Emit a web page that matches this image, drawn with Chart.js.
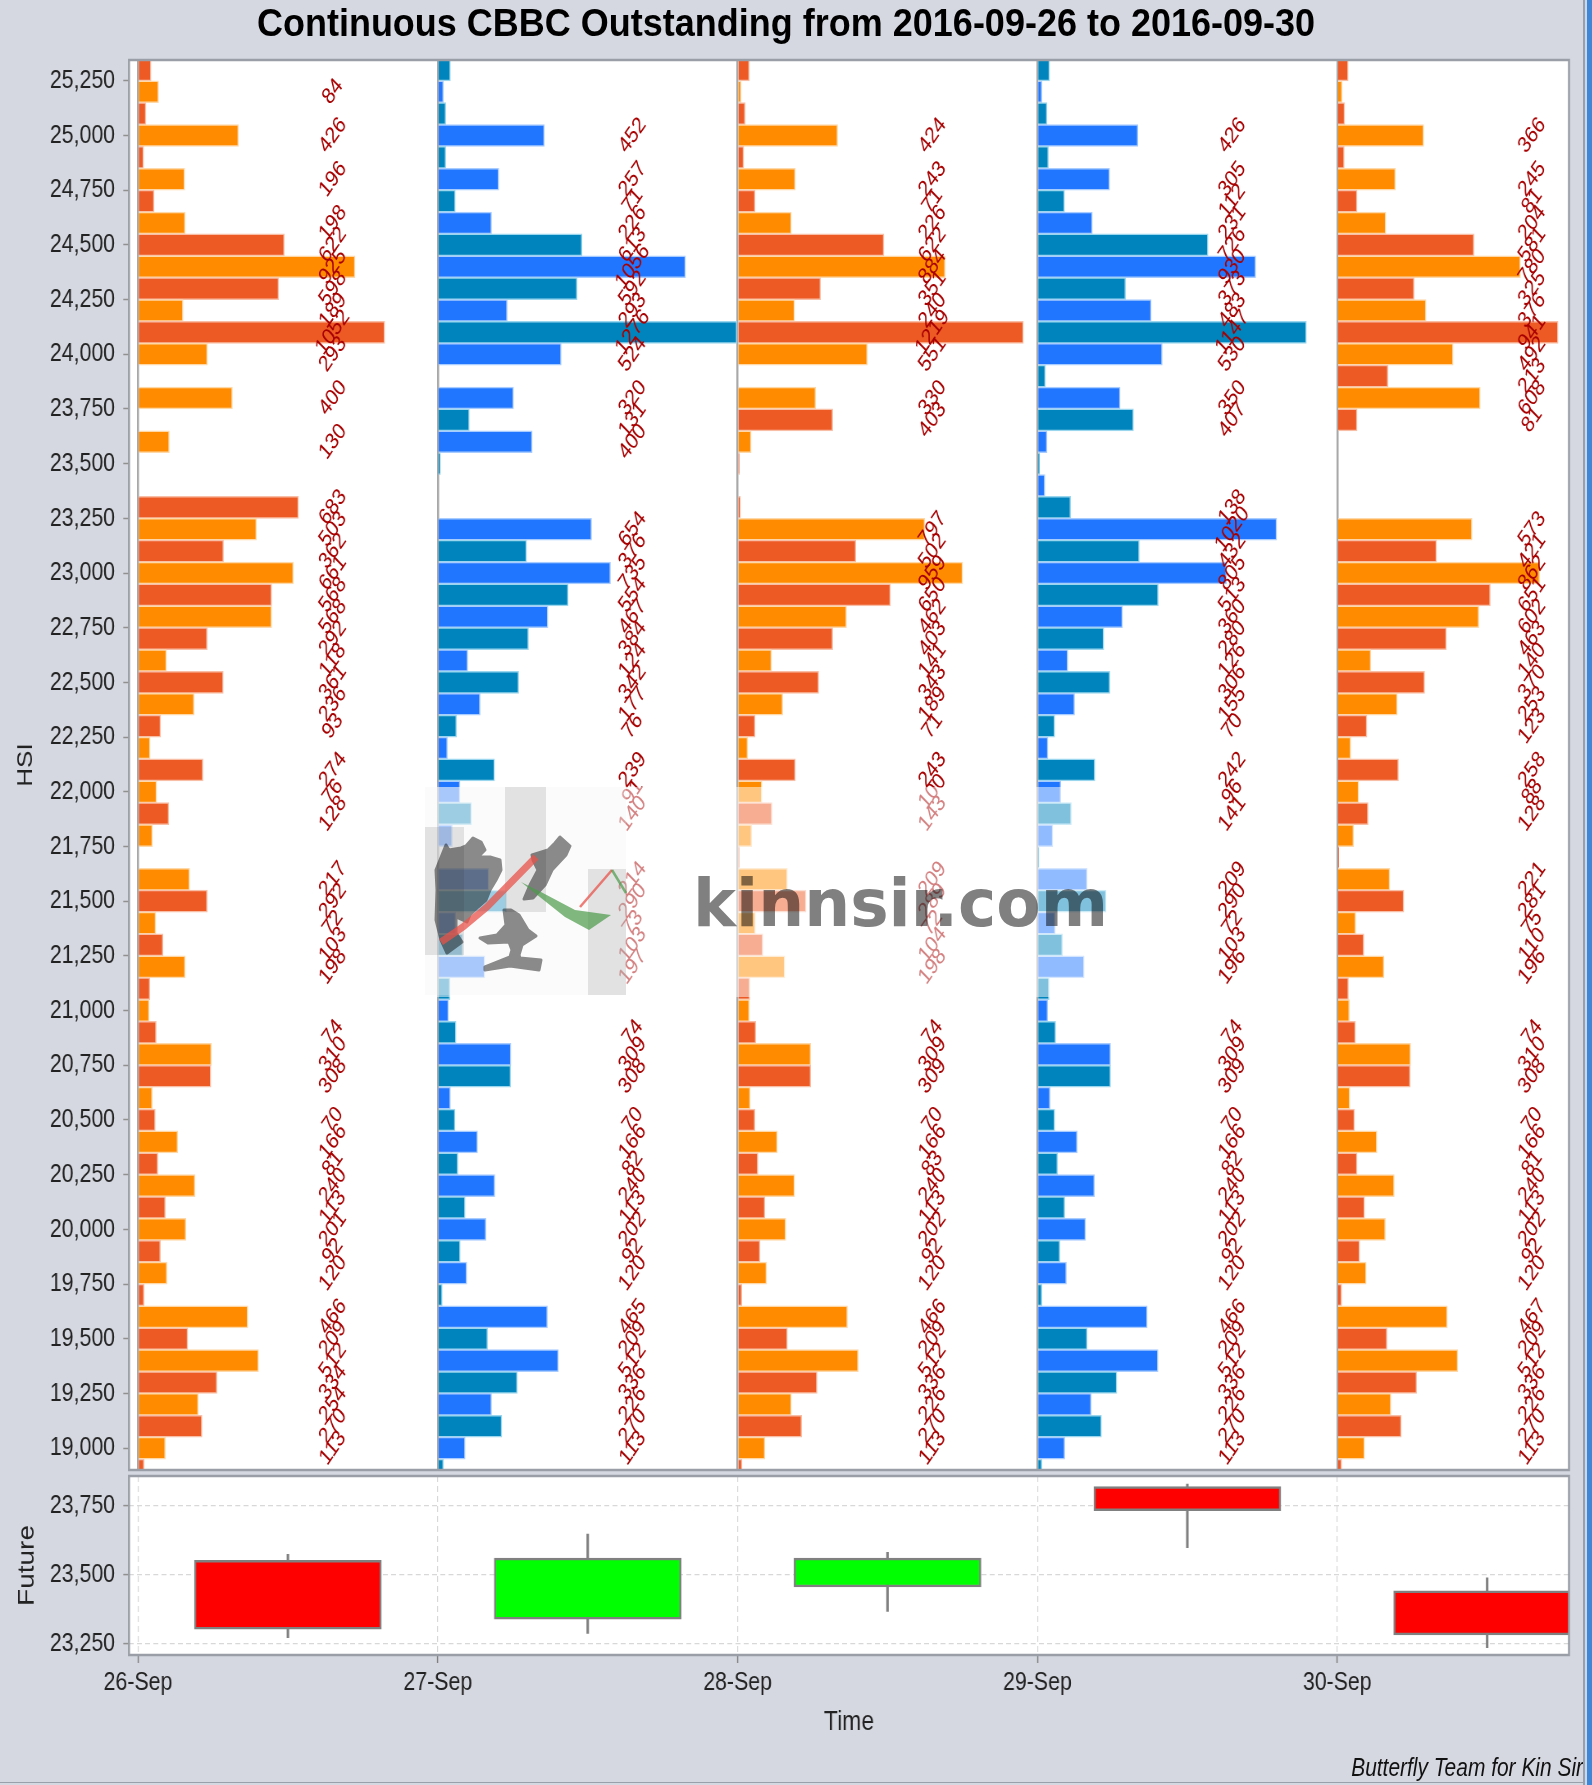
<!DOCTYPE html>
<html>
<head>
<meta charset="utf-8">
<title>Continuous CBBC Outstanding</title>
<script src="https://cdn.jsdelivr.net/npm/chart.js@4"></script>
<style>
  html, body { margin: 0; padding: 0; background: #3f86d6; }
  #page { position: relative; width: 1583px; height: 1785px; background: #d5d8e0; overflow: hidden; border-right: 2px solid #9aa0aa; }
  #foot { position: absolute; left: 0; top: 1782px; width: 1583px; height: 1px; background: #9aa0aa; }
  #strip { position: absolute; left: 1585px; top: 0; width: 2px; height: 1785px; background: #c8d8ee; }
  canvas { position: absolute; left: 0; }
  #title { position: absolute; left: 0; top: 0; width: 1572px; text-align: center; font: bold 39px "Liberation Sans", sans-serif; line-height: 46px; color: #000; transform: scaleX(0.923); }
  #credit { position: absolute; right: 0; top: 1752px; font: italic 26px "Liberation Sans", sans-serif; color: #111; transform: scaleX(0.805); transform-origin: right center; white-space: nowrap; }
  #mark { position: absolute; left: 0; top: 0; }
  .mul { mix-blend-mode: multiply; }
</style>
</head>
<body>
<div id="page">
  <canvas id="hsiChart"></canvas>
  <canvas id="futChart"></canvas>
  <svg id="mark" width="1583" height="1783">
    <rect x="425" y="787" width="686" height="210" fill="#fff" fill-opacity="0.5"/>
    <rect x="425" y="787" width="201" height="208" fill="#f0f0f0" fill-opacity="0.25"/>
    <rect x="425" y="827" width="39" height="128" fill="#777" fill-opacity="0.18"/>
    <rect x="505" y="787" width="41" height="125" fill="#777" fill-opacity="0.18"/>
    <rect x="588" y="869" width="38" height="126" fill="#777" fill-opacity="0.18"/>
    <g class="mul" fill="#8c8c8c" stroke="#8c8c8c" stroke-width="3" stroke-linejoin="round">
      <polygon points="446,845 449,850 461,848 466,846 473,838 481,842 485,850 478,857 490,857 500,860 501,870 496,880 490,890 486,900 478,907 470,915 467,922 456,917 456,933 462,942 447,953 441,940 436,920 437,890 436,870"/>
      <polygon points="560,837 570,846 566,855 552,870 545,885 533,898 524,899 530,885 538,870 533,860 532,855 548,850 555,843"/>
      <polygon points="504,910 511,910 519,915 528,930 536,936 522,945 519,955 520,958 541,960 539,970 510,966 485,970 485,967 510,957 512,950 509,942 488,943 480,938 497,935 506,925"/>
    </g>
    <polyline points="441,942 463,927 487,907 536,857" fill="none" stroke="#e8534a" stroke-opacity="0.75" stroke-width="7"/>
    <polyline points="580,907 612,870" fill="none" stroke="#e8534a" stroke-opacity="0.75" stroke-width="2.5"/>
    <polygon points="521,882 541,892 575,910 611,915 589,930 565,917 531,890" fill="#4a9a4a" fill-opacity="0.7"/>
    <polyline points="612,870 626,893" fill="none" stroke="#4a9a4a" stroke-opacity="0.7" stroke-width="2.5"/>
    <text class="mul" x="693" y="926" font-family="DejaVu Sans" font-weight="bold" font-size="65" fill="#808080" textLength="415" lengthAdjust="spacingAndGlyphs">kinnsir.com</text>
  </svg>
  <div id="title">Continuous CBBC Outstanding from 2016-09-26 to 2016-09-30</div>
  <div id="credit">Butterfly Team for Kin Sir</div>
  <div id="foot"></div>
</div>
<div id="strip"></div>
<script>
const days = ['26-Sep', '27-Sep', '28-Sep', '29-Sep', '30-Sep'];
const strikes = [25300, 25200, 25100, 25000, 24900, 24800, 24700, 24600, 24500, 24400, 24300, 24200, 24100, 24000, 23900, 23800, 23700, 23600, 23500, 23400, 23300, 23200, 23100, 23000, 22900, 22800, 22700, 22600, 22500, 22400, 22300, 22200, 22100, 22000, 21900, 21800, 21700, 21600, 21500, 21400, 21300, 21200, 21100, 21000, 20900, 20800, 20700, 20600, 20500, 20400, 20300, 20200, 20100, 20000, 19900, 19800, 19700, 19600, 19500, 19400, 19300, 19200, 19100, 19000, 18900];

const sep26 = [52, 84, 30, 426, 20, 196, 65, 198, 622, 925, 598, 189, 1052, 293, 0, 400, 0, 130, 0, 0, 683, 503, 362, 661, 568, 568, 292, 118, 361, 236, 93, 48, 274, 76, 128, 58, 0, 217, 292, 72, 103, 198, 47, 44, 74, 310, 308, 57, 70, 166, 81, 240, 113, 201, 92, 120, 22, 466, 209, 512, 334, 254, 270, 113, 22];
const sep27 = [50, 20, 30, 452, 30, 257, 71, 226, 613, 1056, 592, 293, 1276, 524, 0, 320, 131, 400, 7, 0, 0, 654, 376, 735, 554, 467, 384, 124, 342, 177, 76, 37, 239, 91, 140, 58, 0, 214, 290, 73, 103, 197, 48, 42, 74, 309, 308, 50, 70, 166, 82, 240, 113, 202, 92, 120, 15, 465, 209, 512, 336, 226, 270, 113, 20];
const sep28 = [46, 11, 28, 424, 22, 243, 71, 226, 622, 884, 351, 240, 1219, 551, 0, 330, 403, 54, 3, 0, 8, 797, 502, 959, 650, 462, 403, 141, 343, 189, 71, 39, 243, 100, 143, 56, 3, 209, 289, 72, 104, 198, 48, 46, 74, 309, 309, 50, 70, 166, 83, 240, 113, 202, 92, 120, 14, 466, 209, 512, 336, 226, 270, 113, 15];
const sep29 = [48, 15, 37, 426, 43, 305, 112, 231, 726, 930, 373, 483, 1147, 530, 30, 350, 407, 37, 5, 28, 138, 1020, 432, 805, 513, 360, 280, 126, 306, 155, 70, 41, 242, 96, 141, 62, 3, 209, 290, 72, 103, 196, 46, 40, 74, 309, 309, 50, 70, 166, 82, 240, 113, 202, 92, 120, 15, 466, 209, 512, 336, 226, 270, 113, 15];
const sep30 = [43, 17, 28, 366, 26, 245, 81, 204, 581, 780, 325, 376, 941, 492, 213, 608, 81, 0, 0, 0, 0, 573, 421, 862, 651, 602, 463, 140, 370, 253, 123, 54, 258, 88, 128, 66, 3, 221, 281, 75, 110, 196, 44, 48, 74, 310, 308, 50, 70, 166, 81, 240, 113, 202, 92, 120, 15, 467, 209, 512, 336, 226, 270, 113, 15];
const dayValues = [sep26, sep27, sep28, sep29, sep30];

const futOpen = [23553, 23339, 23456, 23821, 23442];
const futClose = [23303, 23561, 23561, 23733, 23282];
const futHigh = [23575, 23648, 23582, 23830, 23489];
const futLow = [23272, 23287, 23367, 23599, 23236];

// one day on the x axis is this many contracts wide, both charts share it
const dayWidth = 1283;
const labelFrom = 70;
const xMin = -0.03 * dayWidth;
const xMax = 4.773 * dayWidth;

const orange = ['#ff8c00', '#ee5a24'];
const blue = ['#2176ff', '#0084bd'];
const orangeEdge = ['#ffd8a8', '#f9bfa6'];
const blueEdge = ['#a8ccff', '#9ad6ee'];

// the source picture is squeezed sideways, so the canvases are drawn wider and shown at 0.82
const squeeze = 0.82;
const cssW = 1585;
const axisLeft = 129 / squeeze;
const rightGap = (cssW - 1569) / squeeze;
const sansFont = '"Liberation Sans", sans-serif';
const tickFont = { family: sansFont, size: 26 };

function place(id, top, height) {
  const c = document.getElementById(id);
  c.style.top = top + 'px';
  c.style.width = cssW + 'px';
  c.style.height = height + 'px';
  c.width = Math.round(cssW / squeeze);
  c.height = height;
  return c.getContext('2d');
}

function fitLeft(scale) {
  scale.width = axisLeft;
  scale.paddingTop = 0;
  scale.paddingBottom = 0;
}

function fitBottom(scale, h) {
  scale.height = h;
  scale.paddingLeft = 0;
  scale.paddingRight = 0;
}

function dayTicks(scale) {
  scale.ticks = days.map((d, i) => ({ value: i * dayWidth }));
}

// dark red value next to each bar, rotated, at a constant offset inside the day
const barLabels = {
  id: 'barLabels',
  afterDatasetsDraw(chart) {
    const { ctx, scales } = chart;
    ctx.save();
    ctx.fillStyle = '#a80000';
    ctx.font = '23px ' + sansFont;
    ctx.textAlign = 'center';
    ctx.textBaseline = 'middle';
    dayValues.forEach((vals, d) => {
      const x = scales.x.getPixelForValue((d + 0.65) * dayWidth);
      vals.forEach((v, i) => {
        if (v < labelFrom) return;
        const y = scales.y.getPixelForValue(strikes[i]);
        ctx.save();
        ctx.translate(x, y);
        ctx.rotate(-50 * Math.PI / 180);
        ctx.fillText(String(v), 0, 0);
        ctx.restore();
      });
    });
    ctx.restore();
  }
};

const plotFrame = {
  id: 'plotFrame',
  beforeDraw(chart) {
    const { ctx, chartArea: a } = chart;
    ctx.save();
    ctx.fillStyle = '#ffffff';
    ctx.fillRect(a.left, a.top, a.right - a.left, a.bottom - a.top);
    ctx.restore();
  },
  afterDraw(chart) {
    const { ctx, chartArea: a } = chart;
    ctx.save();
    ctx.strokeStyle = '#9a9ea6';
    ctx.lineWidth = 2.5;
    ctx.strokeRect(a.left, a.top, a.right - a.left, a.bottom - a.top);
    ctx.restore();
  }
};

const hsiSets = dayValues.map((vals, d) => ({
  data: vals.map((v, i) => ({ x: [d * dayWidth + 4, d * dayWidth + 4 + v], y: strikes[i] })),
  backgroundColor: vals.map((v, i) => (d % 2 ? blue : orange)[i % 2 ? 0 : 1]),
  borderColor: vals.map((v, i) => (d % 2 ? blueEdge : orangeEdge)[i % 2 ? 0 : 1]),
  borderWidth: 1.5,
  borderSkipped: 'left',
  barThickness: 22,
  grouped: false
}));

new Chart(place('hsiChart', 48, 1430), {
  type: 'bar',
  data: { datasets: hsiSets },
  plugins: [barLabels, plotFrame],
  options: {
    indexAxis: 'y',
    responsive: false,
    animation: false,
    layout: { padding: { top: 12, bottom: 8, right: rightGap, left: 0 } },
    plugins: { legend: { display: false }, tooltip: { enabled: false } },
    scales: {
      x: {
        type: 'linear',
        min: xMin,
        max: xMax,
        afterBuildTicks: dayTicks,
        ticks: { display: false },
        grid: { color: '#a8a8a8', lineWidth: 2.5, drawTicks: false },
        border: { display: false }
      },
      y: {
        type: 'linear',
        offset: false,
        min: 18900,
        max: 25345,
        afterFit: fitLeft,
        afterBuildTicks(scale) {
          const t = [];
          for (let v = 19000; v <= 25250; v += 250) t.push({ value: v });
          scale.ticks = t;
        },
        ticks: { font: tickFont, color: '#222', padding: 10, autoSkip: false, callback: v => v.toLocaleString('en-US') },
        title: { display: true, text: 'HSI', font: { family: sansFont, size: 26 }, color: '#222', padding: { top: 16, bottom: 0 } },
        grid: { offset: false, drawOnChartArea: false, color: '#909090', tickLength: 7, tickWidth: 1.5 },
        border: { display: false }
      }
    }
  }
});

const candleColors = futOpen.map((o, i) => (futClose[i] < o ? '#ff0000' : '#00ff00'));

new Chart(place('futChart', 1464, 319), {
  type: 'bar',
  data: {
    datasets: [
      {
        data: days.map((d, i) => ({ x: (i + 0.5) * dayWidth, y: [futLow[i], futHigh[i]] })),
        backgroundColor: '#808080',
        barThickness: 2.4,
        grouped: false,
        order: 2
      },
      {
        data: days.map((d, i) => ({ x: (i + 0.5) * dayWidth, y: [futOpen[i], futClose[i]] })),
        backgroundColor: candleColors,
        borderColor: '#808080',
        borderWidth: 2.5,
        borderSkipped: false,
        barThickness: 187 / squeeze,
        grouped: false,
        order: 1
      }
    ]
  },
  plugins: [plotFrame],
  options: {
    responsive: false,
    animation: false,
    layout: { padding: { top: 12, bottom: 4, right: rightGap, left: 0 } },
    plugins: { legend: { display: false }, tooltip: { enabled: false } },
    scales: {
      x: {
        type: 'linear',
        offset: false,
        min: xMin,
        max: xMax,
        afterBuildTicks: dayTicks,
        afterFit(scale) { fitBottom(scale, 124); },
        ticks: { font: tickFont, color: '#222', maxRotation: 0, padding: 4, autoSkip: false, callback: v => days[Math.round(v / dayWidth)] },
        title: { display: true, text: 'Time', font: { family: sansFont, size: 28 }, color: '#222', padding: { top: 0, bottom: 40 } },
        grid: { offset: false, color: '#d8d8d8', lineWidth: 1.2, tickLength: 8, tickColor: '#808080', tickWidth: 1.5 },
        border: { display: false, dash: [6, 4] }
      },
      y: {
        type: 'linear',
        min: 23209,
        max: 23859,
        afterFit: fitLeft,
        afterBuildTicks(scale) { scale.ticks = [23250, 23500, 23750].map(v => ({ value: v })); },
        ticks: { font: tickFont, color: '#222', padding: 10, callback: v => v.toLocaleString('en-US') },
        title: { display: true, text: 'Future', font: { family: sansFont, size: 28 }, color: '#222', padding: { top: 16, bottom: 0 } },
        grid: { color: '#d8d8d8', lineWidth: 1.2, tickLength: 7, tickColor: '#909090', tickWidth: 1.5 },
        border: { display: false, dash: [6, 4] }
      }
    }
  }
});
</script>
</body>
</html>
